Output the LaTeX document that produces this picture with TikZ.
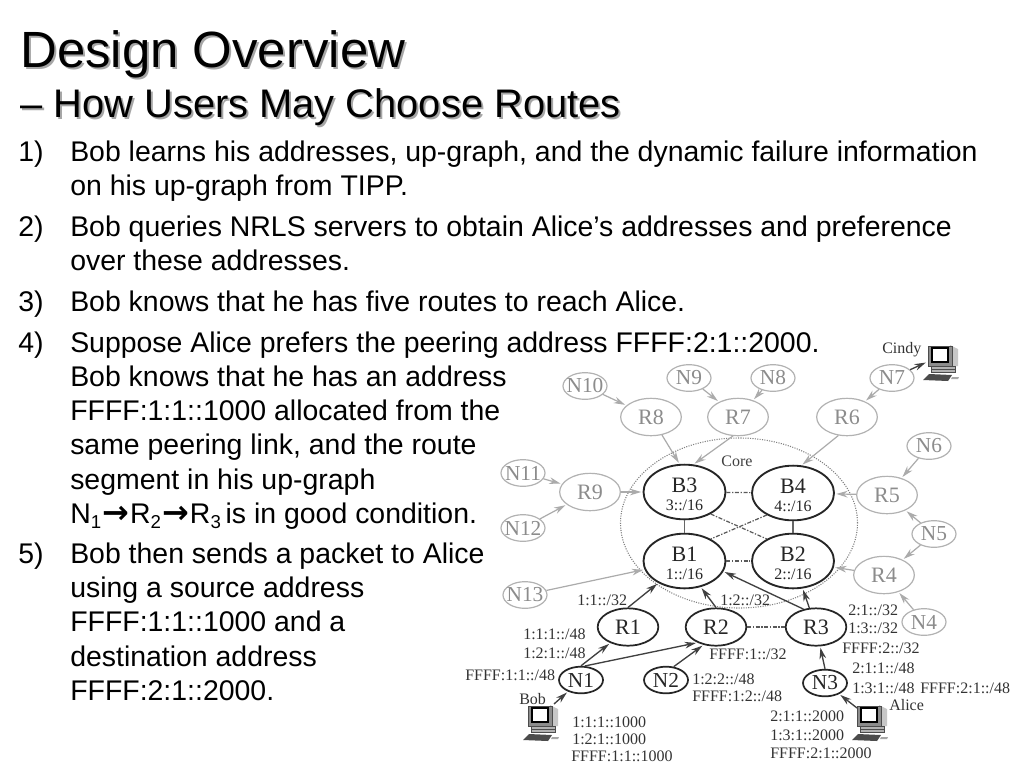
\documentclass[tikz,border=0pt]{standalone}
\usepackage{fontspec}
\setmainfont{Liberation Sans}
\newfontfamily\lab{Liberation Serif}
\newfontfamily\djv{DejaVu Sans}
\usetikzlibrary{arrows.meta,shapes.geometric}
\newcommand{\tline}[3]{\node[bodyt] (#1) at (70,{#2+1}) {#3};}
\newcommand{\tnum}[3]{\node[bodyt] (#1) at (18,{#2+1}) {#3};}
\newcommand{\lbl}[4]{\node[addr,anchor=base west] (#1) at (#2,#3) {#4};}
\newcommand{\bb}[2]{\raisebox{-6pt}[0pt][0pt]{\begin{tabular}{@{}c@{}}{\lab\fontsize{16.5}{18}\selectfont #1}\\[1.3pt]{\lab\fontsize{12}{13}\selectfont #2}\end{tabular}}}
\newcommand{\subn}[1]{\raisebox{-.2em}{\fontsize{14}{16}\selectfont #1}}
\newcommand{\arr}{\kern.8pt{\djv\bfseries\fontsize{24}{26}\selectfont →}\kern.8pt}
\newcommand{\comp}[2]{%
  \begin{scope}[shift={(#1,#2)}]
    \fill[black!22] (22,0) -- (30,4) -- (30,21) -- (22,22) -- cycle;
    \filldraw[fill=black!45,draw=black!70,line width=.5pt] (0,1) rectangle (24,21);
    \filldraw[fill=white,draw=black,line width=1.1pt] (4,3) rectangle (20,17);
    \filldraw[fill=black!30,draw=black!70,line width=.5pt] (3,21) rectangle (27,27);
    \draw[black!70,line width=.5pt] (3,24) -- (27,24);
    \fill[black!70] (1,29) -- (24,30) -- (20,36) -- (-5,35) -- cycle;
    \fill[black!35] (24,32) -- (31,32) -- (30,34) -- (23,34) -- cycle;
  \end{scope}}
\tikzset{
  bodyt/.style={anchor=base west,inner sep=0pt,font=\fontsize{21.33}{25}\selectfont,text=black},
  addr/.style={inner sep=0pt,font=\lab\fontsize{12}{14}\selectfont,text=black!80},
  outerr/.style={draw=black!30,line width=.9pt,ellipse,inner xsep=-8pt,inner ysep=-8pt,minimum width=45.5pt,minimum height=28pt,font=\lab\fontsize{16.5}{18}\selectfont,text=black!45},
  leaf/.style={draw=black!30,line width=.9pt,ellipse,inner xsep=-10pt,inner ysep=-8pt,minimum width=33pt,minimum height=20pt,font=\lab\fontsize{16}{18}\selectfont,text=black!45},
  backb/.style={draw=black!85,line width=1.4pt,ellipse,inner sep=0pt,minimum width=61.5pt,minimum height=41pt,text=black!85},
  innerr/.style={draw=black!85,line width=1.3pt,ellipse,inner xsep=-8pt,inner ysep=-8pt,minimum width=45.5pt,minimum height=28pt,font=\lab\fontsize{16.5}{18}\selectfont,text=black!85},
  innerleaf/.style={draw=black!85,line width=1.3pt,ellipse,inner xsep=-8pt,inner ysep=-8pt,minimum width=33pt,minimum height=20pt,font=\lab\fontsize{16}{18}\selectfont,text=black!85},
  garrow/.style={draw=black!33,line width=.9pt,-{Stealth[length=8.5pt,width=5pt]},shorten >=1pt},
  darrow/.style={draw=black!75,line width=1pt,-{Stealth[length=8.5pt,width=5pt]},shorten >=1pt},
  dd/.style={draw=black!65,line width=.9pt,dash pattern=on 3pt off 1.2pt on 1pt off 1.2pt},
  solidl/.style={draw=black!60,line width=.8pt},
}
\begin{document}
\begin{tikzpicture}[x=.75pt,y=-.75pt]
\useasboundingbox (0,0) rectangle (1024,768);
\fill[white] (0,0) rectangle (1024,768);
% titles
\node[anchor=base west,inner sep=0pt,font=\fontsize{38.2}{44}\selectfont,text=black!35] at (22,69) {Design Overview};
\node[anchor=base west,inner sep=0pt,font=\fontsize{38.2}{44}\selectfont] (title) at (20,67) {Design Overview};
\node[anchor=base west,inner sep=0pt,font=\fontsize{29.9}{34}\selectfont,text=black!35] at (22,119) {– How Users May Choose Routes};
\node[anchor=base west,inner sep=0pt,font=\fontsize{29.9}{34}\selectfont] (subtitle) at (20,117) {– How Users May Choose Routes};
% body
\tnum{n1}{160}{1)}
\tline{a1}{160}{Bob learns his addresses, up-graph, and the dynamic failure information}
\tline{a2}{194}{on his up-graph from TIPP.}
\tnum{n2}{235}{2)}
\tline{b1}{235}{Bob queries NRLS servers to obtain Alice’s addresses and preference}
\tline{b2}{269}{over these addresses.}
\tnum{n3}{310}{3)}
\tline{c1}{310}{Bob knows that he has five routes to reach Alice.}
\tnum{n4}{351}{4)}
\tline{d1}{351}{Suppose Alice prefers the peering address FFFF:2:1::2000.}
\tline{d2}{385}{Bob knows that he has an address}
\tline{d3}{419}{FFFF:1:1::1000 allocated from the}
\tline{d4}{453}{same peering link, and the route}
\tline{d5}{488}{segment in his up-graph}
\tline{d6}{522}{N\subn{1}\arr R\subn{2}\arr R\subn{3}\,is in good condition.}
\tnum{n5}{562}{5)}
\tline{e1}{562}{Bob then sends a packet to Alice}
\tline{e2}{596}{using a source address}
\tline{e3}{630}{FFFF:1:1::1000 and a}
\tline{e4}{665}{destination address}
\tline{e5}{699}{FFFF:2:1::2000.}
% core
\node[draw=black!50,densely dotted,line width=.8pt,ellipse,minimum width=177.75pt,minimum height=127.5pt,inner sep=0pt] (core) at (739,523) {};
\node[font=\lab\fontsize{12}{13}\selectfont,text=black!75,inner sep=0pt] (corel) at (737,461) {Core};
% nodes
\node[leaf] (N10) at (585,386) {N10};
\node[leaf] (N9) at (689,378) {N9};
\node[leaf] (N8) at (773,378) {N8};
\node[leaf] (N7) at (892,378) {N7};
\node[leaf] (N6) at (929,446) {N6};
\node[leaf] (N5) at (934,534) {N5};
\node[leaf] (N4) at (924,622) {N4};
\node[leaf] (N11) at (523,473) {N11};
\node[leaf] (N12) at (523,528) {N12};
\node[leaf] (N13) at (525,595) {N13};
\node[outerr] (R8) at (651,417) {R8};
\node[outerr] (R7) at (738,417) {R7};
\node[outerr] (R6) at (847,417) {R6};
\node[outerr] (R9) at (590,492) {R9};
\node[outerr] (R5) at (887,495) {R5};
\node[outerr] (R4) at (884,575) {R4};
\node[backb] (B3) at (684.5,492) {\bb{B3}{3::/16}};
\node[backb] (B4) at (793,493) {\bb{B4}{4::/16}};
\node[backb] (B1) at (684.5,561) {\bb{B1}{1::/16}};
\node[backb] (B2) at (793,561) {\bb{B2}{2::/16}};
\node[innerr] (R1) at (628,627) {R1};
\node[innerr] (R2) at (716,627) {R2};
\node[innerr] (R3) at (816,627) {R3};
\node[innerleaf] (N1) at (581,680) {N1};
\node[innerleaf] (N2) at (666,680) {N2};
\node[innerleaf] (N3) at (825,683) {N3};
% computers
\comp{928}{345}
\comp{528}{705}
\comp{857}{705}
\coordinate (cindy) at (927,362);
\coordinate (bob) at (554,704);
\coordinate (alice) at (857,708);
% core links
\draw[dd] (B3) -- (B4);
\draw[dd] (B1) -- (B2);
\draw[dd] (B3.-40) -- (B2.140);
\draw[dd] (B4.220) -- (B1.40);
\draw[solidl] (B3) -- (B1);
\draw[solidl] (B4) -- (B2);
\draw[dd] (R2) -- (R3);
% grey arrows
\draw[garrow] (N10) -- (R8);
\draw[garrow] (N9) -- (R7);
\draw[garrow] (N8) -- (R7);
\draw[garrow] (N7) -- (R6);
\draw[garrow] (N6) -- (R5);
\draw[garrow] (N5) -- (R5);
\draw[garrow] (N5) -- (R4);
\draw[garrow] (N4) -- (R4);
\draw[garrow] (N11) -- (R9);
\draw[garrow] (N12) -- (R9);
\draw[garrow] (N13) -- (B1);
\draw[garrow] (R8) -- (B3.100);
\draw[garrow] (R7.-105) -- (B3.72);
\draw[garrow] (R6.-115) -- (B4.73);
\draw[garrow] (R9) -- (B3);
\draw[garrow] (R5) -- (B4);
\draw[garrow] (R4) -- (B2);
% dark arrows
\draw[darrow] (N7) -- (cindy);
\draw[darrow] (R1.north) -- (B1.-140);
\draw[darrow] (R2.north) -- (B1.-58);
\draw[darrow] (R3.125) -- (B1.-15);
\draw[darrow] (R3) -- (B2);
\draw[darrow] (N1.north) -- (R1.-138);
\draw[darrow] (N1.75) -- (R2.-140);
\draw[darrow] (N2.60) -- (R2.-125);
\draw[darrow] (N3.north) -- (R3.-78);
\draw[darrow] (bob) -- (N1);
\draw[darrow] (alice) -- (N3);
% labels
\node[addr,anchor=base west] (cindyl) at (882,353) {Cindy};
\lbl{l1}{577}{605}{1:1::/32}
\lbl{l2}{720}{605}{1:2::/32}
\lbl{l3}{523}{639}{1:1:1::/48}
\lbl{l4}{523}{658}{1:2:1::/48}
\lbl{l5}{465}{680}{FFFF:1:1::/48}
\lbl{l6}{709}{659}{FFFF:1::/32}
\lbl{l7}{692}{684}{1:2:2::/48}
\lbl{l8}{692}{701}{FFFF:1:2::/48}
\lbl{l9}{848}{615}{2:1::/32}
\lbl{l10}{848}{633}{1:3::/32}
\lbl{l11}{842}{653}{FFFF:2::/32}
\lbl{l12}{852}{673}{2:1:1::/48}
\lbl{l13}{852}{693}{1:3:1::/48}
\lbl{l14}{920}{693}{FFFF:2:1::/48}
\lbl{l15}{889}{710}{Alice}
\lbl{l16}{519}{704}{Bob}
\lbl{l17}{572}{727}{1:1:1::1000}
\lbl{l18}{572}{744}{1:2:1::1000}
\lbl{l19}{571}{761}{FFFF:1:1::1000}
\lbl{l20}{770}{721}{2:1:1::2000}
\lbl{l21}{770}{740}{1:3:1::2000}
\lbl{l22}{770}{758}{FFFF:2:1::2000}
\end{tikzpicture}
\end{document}
